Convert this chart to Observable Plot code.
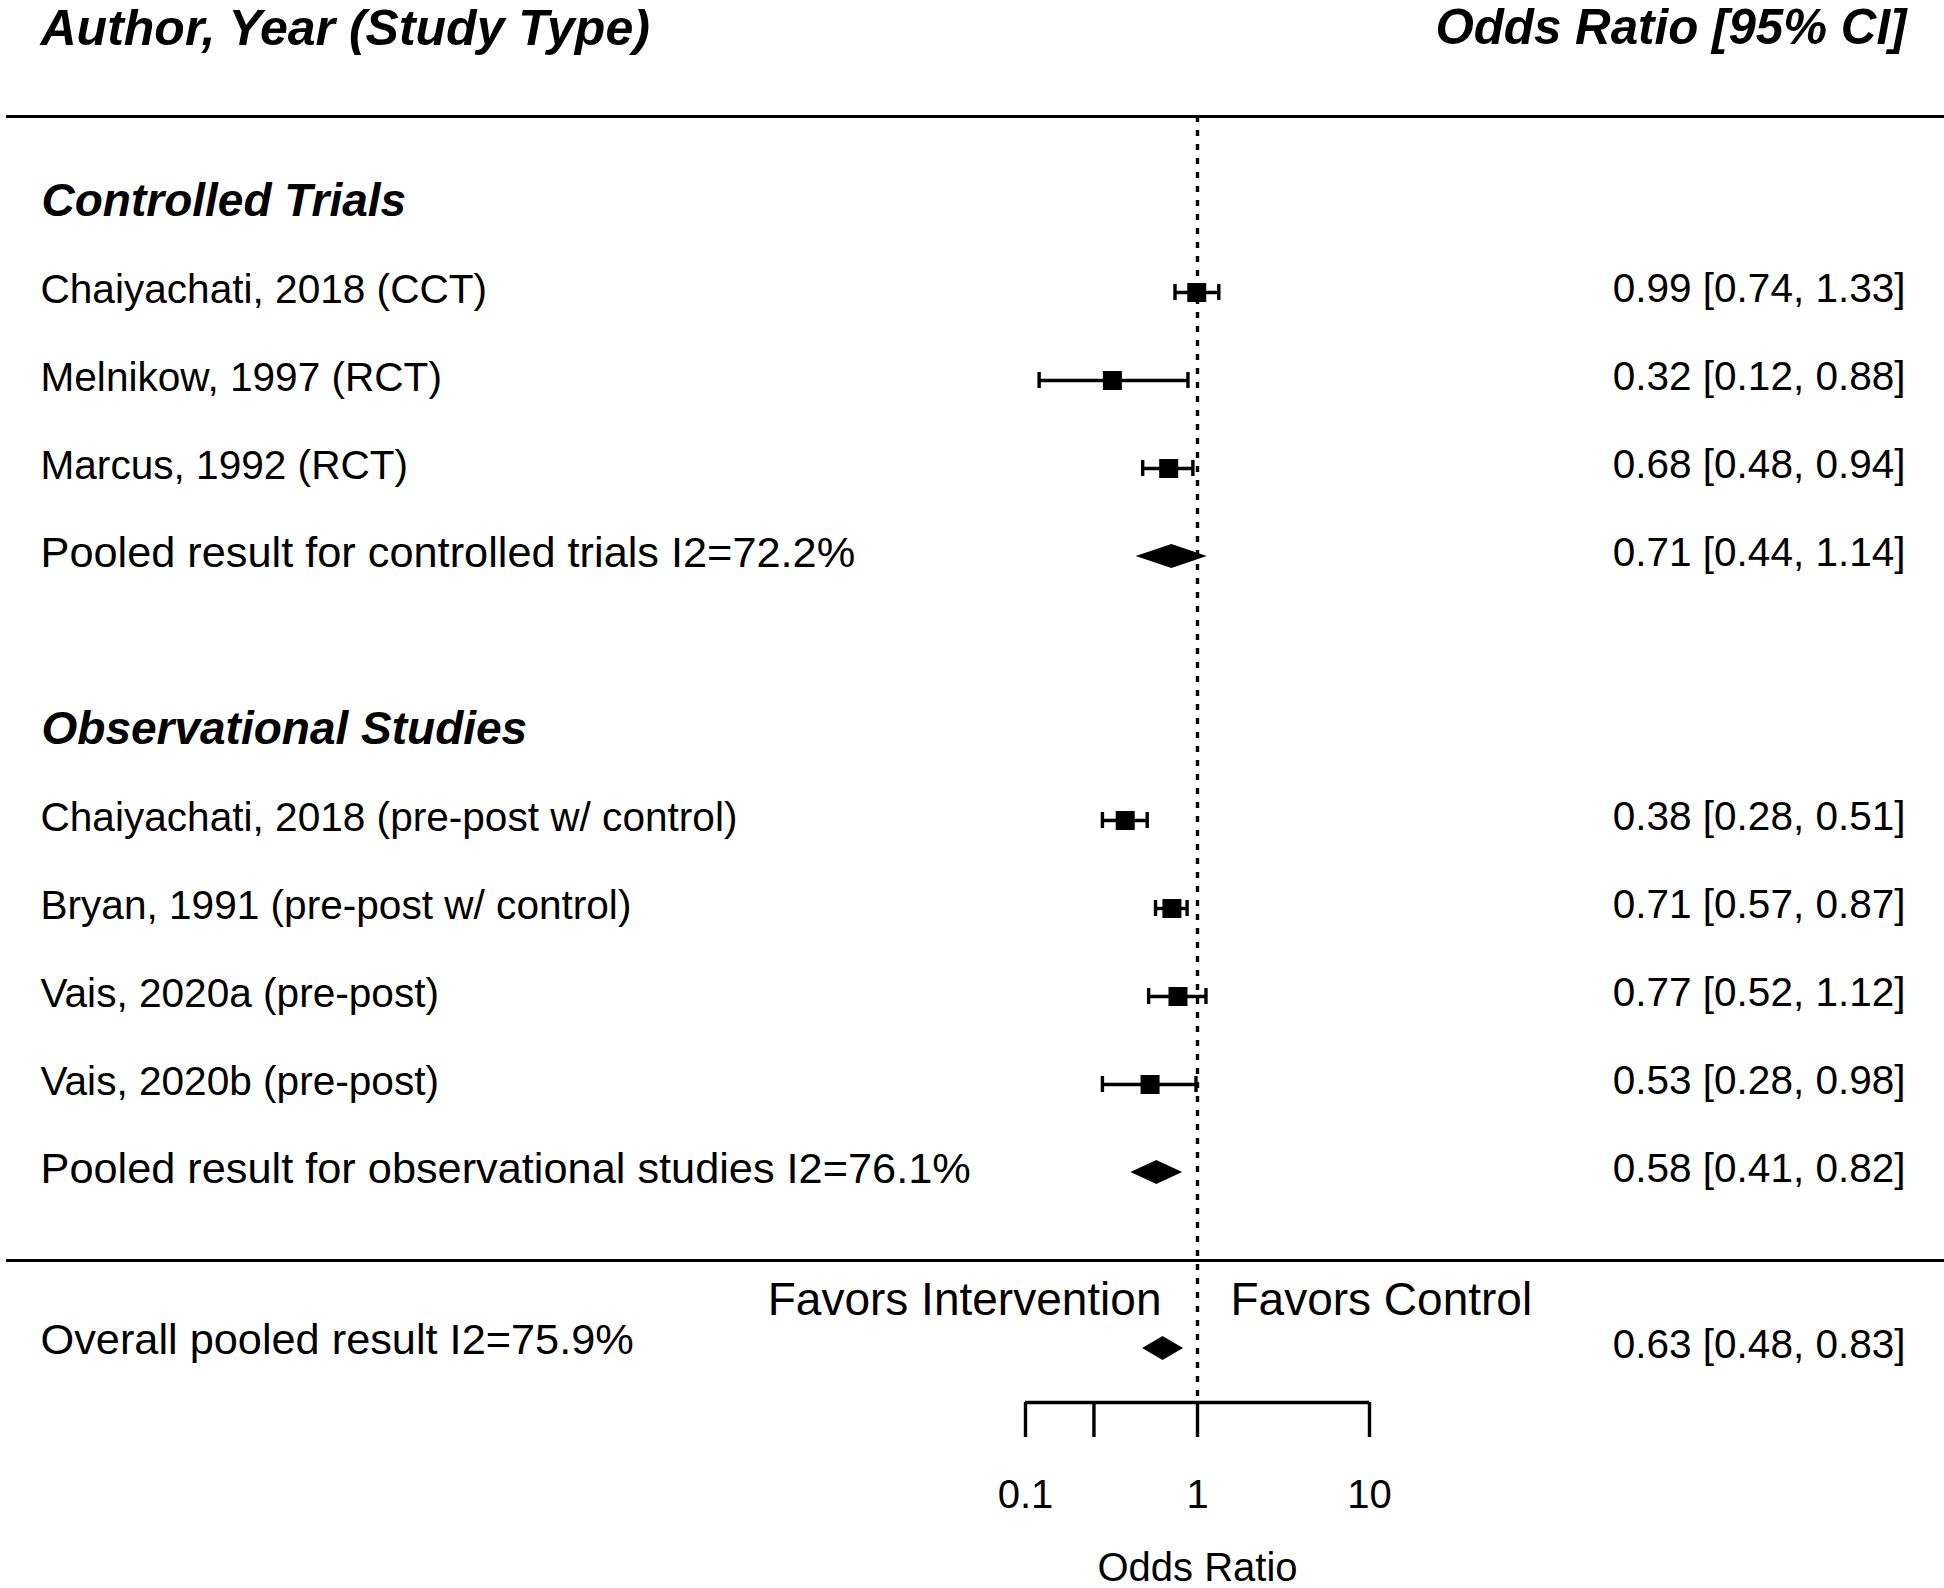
<!DOCTYPE html>
<html>
<head>
<meta charset="utf-8">
<script src="https://cdn.jsdelivr.net/npm/d3@7"></script>
<script src="https://cdn.jsdelivr.net/npm/@observablehq/plot@0.6"></script>
<style>
  html, body { margin: 0; padding: 0; background: #fff; }
  svg { display: block; }
</style>
</head>
<body>
<div id="chart"></div>
<script>
// ---------- data ----------
const studyLabels = [
  "Chaiyachati, 2018 (CCT)",
  "Melnikow, 1997 (RCT)",
  "Marcus, 1992 (RCT)",
  "Chaiyachati, 2018 (pre-post w/ control)",
  "Bryan, 1991 (pre-post w/ control)",
  "Vais, 2020a (pre-post)",
  "Vais, 2020b (pre-post)"
];
const studyOR = [0.99, 0.32, 0.68, 0.38, 0.71, 0.77, 0.53];
const studyLo = [0.74, 0.12, 0.48, 0.28, 0.57, 0.52, 0.28];
const studyHi = [1.33, 0.88, 0.94, 0.51, 0.87, 1.12, 0.98];
const studyRows = [0, 1, 2, 6, 7, 8, 9];

const pooledLabels = [
  "Pooled result for controlled trials I2=72.2%",
  "Pooled result for observational studies I2=76.1%",
  "Overall pooled result I2=75.9%"
];
const pooledOR = [0.71, 0.58, 0.63];
const pooledLo = [0.44, 0.41, 0.48];
const pooledHi = [1.14, 0.82, 0.83];
const pooledRows = [3, 10, 12];

const groupLabels = ["Controlled Trials", "Observational Studies"];
const groupRows = [-1, 5];

const headerLeft = "Author, Year (Study Type)";
const headerRight = "Odds Ratio [95% CI]";
const xTicks = [0.1, 0.25, 1, 10];
const xTickLabels = ["0.1", "", "1", "10"];
const xLabel = "Odds Ratio";
const favorsLeft = "Favors Intervention";
const favorsRight = "Favors Control";

// ---------- tables ----------
const fmt = (o, l, h) => `${o.toFixed(2)} [${l.toFixed(2)}, ${h.toFixed(2)}]`;
const studies = studyLabels.map((label, i) => ({
  label, or: studyOR[i], lo: studyLo[i], hi: studyHi[i], row: studyRows[i],
  txt: fmt(studyOR[i], studyLo[i], studyHi[i])
}));
const pooled = pooledLabels.map((label, i) => ({
  label, or: pooledOR[i], lo: pooledLo[i], hi: pooledHi[i], row: pooledRows[i],
  txt: fmt(pooledOR[i], pooledLo[i], pooledHi[i]), overall: i === pooledLabels.length - 1
}));
const groups = groupLabels.map((label, i) => ({label, row: groupRows[i]}));

// ---------- layout ----------
const W = 1944, H = 1588;
const rowPx = 88;                 // pixels per row
const yTopPx = 28, yBotPx = 1348; // rows -3 .. 12
const axisPx = 1402;
const pxToRow = px => -3 + (px - yTopPx) / rowPx;
const axisRow = pxToRow(axisPx);
const capHalf = 8 / rowPx;
const diaHalf = 12 / rowPx;
const lw = 3.4;

const diamonds = pooled.flatMap((d, k) => [
  {id: k, y: d.row - diaHalf, x1: d.or, x2: d.or},
  {id: k, y: d.row, x1: d.lo, x2: d.hi},
  {id: k, y: d.row + diaHalf, x1: d.or, x2: d.or}
]);

const font = "'Liberation Sans', Arial, Helvetica, sans-serif";

const chart = Plot.plot({
  width: W,
  height: H,
  marginTop: 0,
  marginRight: 0,
  marginLeft: 0,
  marginBottom: H - axisPx,
  style: {fontFamily: font, background: "#fff", color: "#000"},
  x: {type: "log", domain: [0.1, 10], range: [1025, 1369]},
  y: {domain: [-3, 12], range: [yTopPx, yBotPx], axis: null},
  marks: [
    // separator lines
    Plot.ruleY([-2, 11], {y: d => d, stroke: "#000", strokeWidth: 3, insetLeft: 6}),
    // reference line
    Plot.ruleX([1], {x: d => d, y1: () => -2, y2: () => axisRow, stroke: "#000", strokeWidth: lw, strokeDasharray: "6,8"}),
    // axis line
    Plot.ruleY([axisRow], {y: d => d, x1: () => 0.1, x2: () => 10, stroke: "#000", strokeWidth: lw}),
    Plot.axisX({
      ticks: xTicks,
      tickFormat: d => xTickLabels[xTicks.indexOf(d)],
      tickSize: 35,
      tickPadding: 42,
      fontSize: 40,
      strokeWidth: lw,
      stroke: "#000",
      fill: "#000",
      label: null
    }),
    Plot.text([xLabel], {text: d => d, x: () => 1, y: () => pxToRow(1568), fontSize: 40, fill: "#000"}),

    // CIs
    Plot.ruleY(studies, {y: "row", x1: "lo", x2: "hi", stroke: "#000", strokeWidth: lw}),
    Plot.ruleX(studies, {x: "lo", y1: d => d.row - capHalf, y2: d => d.row + capHalf, stroke: "#000", strokeWidth: lw}),
    Plot.ruleX(studies, {x: "hi", y1: d => d.row - capHalf, y2: d => d.row + capHalf, stroke: "#000", strokeWidth: lw}),
    Plot.dot(studies, {x: "or", y: "row", symbol: "square", r: 19 / Math.sqrt(Math.PI), fill: "#000", stroke: null}),

    // diamonds
    Plot.areaX(diamonds, {x1: "x1", x2: "x2", y: "y", z: "id", fill: "#000", curve: "linear"}),

    // headers
    Plot.text([headerLeft], {text: d => d, y: () => -3, frameAnchor: "left", textAnchor: "start", dx: 40,
      fontSize: 50, fontWeight: "bold", fontStyle: "italic", fill: "#000"}),
    Plot.text([headerRight], {text: d => d, y: () => -3, frameAnchor: "right", textAnchor: "end", dx: -38,
      fontSize: 49.3, fontWeight: "bold", fontStyle: "italic", fill: "#000"}),
    Plot.text(groups, {text: "label", y: "row", frameAnchor: "left", textAnchor: "start", dx: 41, dy: -3,
      fontSize: 46, fontWeight: "bold", fontStyle: "italic", fill: "#000"}),

    // study labels and values
    Plot.text(studies, {text: "label", y: "row", frameAnchor: "left", textAnchor: "start", dx: 40, dy: -3,
      fontSize: 40.6, fill: "#000"}),
    Plot.text(studies, {text: "txt", y: "row", frameAnchor: "right", textAnchor: "end", dx: -39, dy: -3,
      fontSize: 40.5, fill: "#000"}),
    Plot.text(pooled.filter(d => !d.overall), {text: "label", y: "row", frameAnchor: "left", textAnchor: "start", dx: 40, dy: -3,
      fontSize: 43.3, fill: "#000"}),
    Plot.text(pooled.filter(d => d.overall), {text: "label", y: "row", frameAnchor: "left", textAnchor: "start", dx: 40, dy: -8,
      fontSize: 43.3, fill: "#000"}),
    Plot.text(pooled, {text: "txt", y: "row", frameAnchor: "right", textAnchor: "end", dx: -39, dy: -3,
      fontSize: 40.5, fill: "#000"}),

    // favors
    Plot.text([favorsLeft], {text: d => d, x: () => 1, y: () => 11.5, textAnchor: "end", dx: -36, dy: -4, fontSize: 46, fill: "#000"}),
    Plot.text([favorsRight], {text: d => d, x: () => 1, y: () => 11.5, textAnchor: "start", dx: 33, dy: -4, fontSize: 46, fill: "#000"})
  ]
});
document.getElementById("chart").appendChild(chart);
</script>
</body>
</html>
